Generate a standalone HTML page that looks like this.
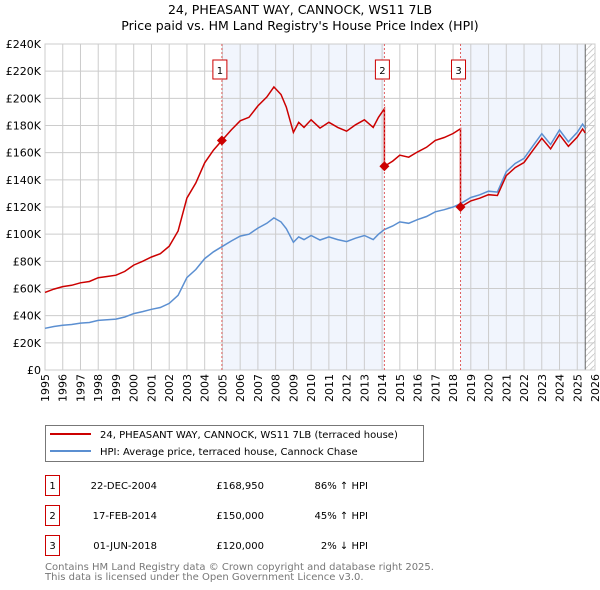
<!DOCTYPE html>
<html><head><meta charset="utf-8"><style>
body{margin:0;width:600px;height:590px;background:#fff;font-family:"DejaVu Sans","Liberation Sans",sans-serif;overflow:hidden}
svg{position:absolute;left:0;top:0}
</style></head><body>
<svg id="chart" width="600" height="590" font-family="DejaVu Sans, Liberation Sans, sans-serif">
<text x="300" y="14" text-anchor="middle" font-size="12.5">24, PHEASANT WAY, CANNOCK, WS11 7LB</text>
<text x="300" y="30" text-anchor="middle" font-size="12.5">Price paid vs. HM Land Registry's House Price Index (HPI)</text>
<g id="bg"></g><g id="grid"></g><g id="axes"></g><g id="lines"></g><g id="marks"></g>
<rect x="45.5" y="425.5" width="378" height="36" fill="#fff" stroke="#777"/>
<line x1="50" y1="434" x2="91" y2="434" stroke="#cc0000" stroke-width="2"/>
<text x="100" y="438" font-size="10">24, PHEASANT WAY, CANNOCK, WS11 7LB (terraced house)</text>
<line x1="50" y1="451" x2="91" y2="451" stroke="#5b8fd1" stroke-width="2"/>
<text x="100" y="455" font-size="10">HPI: Average price, terraced house, Cannock Chase</text>
<g id="table" font-size="10"></g>
<text x="45" y="570" font-size="10" fill="#777">Contains HM Land Registry data © Crown copyright and database right 2025.</text>
<text x="45" y="580" font-size="10" fill="#777">This data is licensed under the Open Government Licence v3.0.</text>
</svg>
<script>
const hpiYears=[1995,1995.5,1996,1996.5,1997,1997.5,1998,1998.5,1999,1999.5,2000,2000.5,2001,2001.5,2002,2002.5,2003,2003.5,2004,2004.5,2004.97,2005.5,2006,2006.5,2007,2007.5,2007.9,2008.3,2008.6,2009,2009.3,2009.6,2010,2010.5,2011,2011.5,2012,2012.5,2013,2013.5,2013.8,2014.13,2014.6,2015,2015.5,2016,2016.5,2017,2017.5,2018,2018.42,2019,2019.5,2020,2020.5,2021,2021.5,2022,2022.5,2023,2023.5,2024,2024.5,2025,2025.3,2025.45];
const hpiValues=[30.7,32,33,33.5,34.5,35,36.5,37,37.5,39,41.5,43,44.7,46,49,55,68,74,82,87,90.8,95,98.6,100,104.5,108,112,109,104,94,98,96,99,95.7,98,96,94.5,97,99,96,100,103.4,106,109,108,110.7,113,116.5,118,120,122.4,127,129,131.6,131,146,152,155.8,165,174,166,176.7,168,175,181,178];
const saleYears=[2004.97,2014.13,2018.42];
const salePrices=[168.95,150,120];
const saleLabels=["1","2","3"];
const saleDates=["22-DEC-2004","17-FEB-2014","01-JUN-2018"];
const salePriceText=["£168,950","£150,000","£120,000"];
const salePctText=["86% ↑ HPI","45% ↑ HPI","2% ↓ HPI"];
const yTicks=[0,20,40,60,80,100,120,140,160,180,200,220,240];
const xTicks=[1995,1996,1997,1998,1999,2000,2001,2002,2003,2004,2005,2006,2007,2008,2009,2010,2011,2012,2013,2014,2015,2016,2017,2018,2019,2020,2021,2022,2023,2024,2025,2026];
const NS="http://www.w3.org/2000/svg";
const X0=45,X1=595,Y0=370,Y1=44;
const xs=t=>X0+(t-1995)/(2026-1995)*(X1-X0);
const ys=v=>Y0-v/240*(Y0-Y1);
function mk(tag,parent,attrs){const e=document.createElementNS(NS,tag);for(const k in attrs)e.setAttribute(k,attrs[k]);(typeof parent==='string'?document.getElementById(parent):parent).appendChild(e);return e;}
function hpiAt(t){for(let i=0;i<hpiYears.length-1;i++){if(t<=hpiYears[i+1]){const f=(t-hpiYears[i])/(hpiYears[i+1]-hpiYears[i]);return hpiValues[i]+f*(hpiValues[i+1]-hpiValues[i]);}}return hpiValues[hpiValues.length-1];}
let r=mk('rect','bg',{x:X0,y:Y1,width:X1-X0,height:Y0-Y1,fill:'#fff'});


[[saleYears[0],saleYears[1]],[saleYears[2],2025.45]].forEach(p=>{let s=mk('rect','bg',{x:xs(p[0]),y:Y1,width:xs(p[1])-xs(p[0]),height:Y0-Y1,fill:'#eef3fc',opacity:0.8});

});
const pat=mk('pattern','bg',{id:'hatch',width:6,height:6,patternUnits:'userSpaceOnUse'});
const pl=document.createElementNS(NS,'path');pl.setAttribute('d','M0,6 L6,0');pl.setAttribute('stroke','#ccc');pat.appendChild(pl);
let h=mk('rect','bg',{x:xs(2025.45),y:Y1,width:X1-xs(2025.45),height:Y0-Y1,fill:'url(#hatch)'});


yTicks.forEach(v=>{mk('line','grid',{x1:X0,x2:X1,y1:ys(v),y2:ys(v),stroke:'#ccc'});
let t=mk('text','axes',{x:X0-4,y:ys(v)+4,'text-anchor':'end','font-size':11});t.textContent='£'+(v?v+'K':'0');

});
xTicks.forEach(y=>{mk('line','grid',{x1:xs(y),x2:xs(y),y1:Y1,y2:Y0,stroke:'#ccc'});
const tx=xs(y)+4,ty=Y0+4;
const g=mk('g','axes',{transform:'translate('+tx.toFixed(1)+','+ty+') rotate(-90)'});
let t=mk('text',g,{x:0,y:0,'text-anchor':'end','font-size':11});t.textContent=y;

});
mk('line','grid',{x1:xs(2025.45),x2:xs(2025.45),y1:Y1,y2:Y0,stroke:'#666'});
mk('rect','grid',{x:X0,y:Y1,width:X1-X0,height:Y0-Y1,fill:'none',stroke:'#ccc'});
let hp='';hpiYears.forEach((t,i)=>{hp+=(i?'L':'M')+xs(t).toFixed(1)+','+ys(hpiValues[i]).toFixed(1);});
let hl=mk('path','lines',{d:hp,fill:'none',stroke:'#5b8fd1','stroke-width':1.5});


function ratioAt(t){let k=0;for(let i=0;i<saleYears.length;i++)if(t>=saleYears[i])k=i;return salePrices[k]/hpiAt(saleYears[k]);}
let pts=[];hpiYears.forEach((t,i)=>{pts.push([t,hpiValues[i]*ratioAt(t)]);});
saleYears.forEach((s,k)=>{if(k>0){pts.push([s-0.001,hpiAt(s)*salePrices[k-1]/hpiAt(saleYears[k-1])]);}});
pts.sort((a,b)=>a[0]-b[0]);
let rp='';pts.forEach((p,i)=>{rp+=(i?'L':'M')+xs(p[0]).toFixed(1)+','+ys(p[1]).toFixed(1);});
let rl=mk('path','lines',{d:rp,fill:'none',stroke:'#cc0000','stroke-width':1.5});


saleYears.forEach((s,k)=>{const x=xs(s),y=ys(salePrices[k]);
mk('line','marks',{x1:x,x2:x,y1:Y1,y2:Y0,stroke:'#e06060','stroke-dasharray':'2,2'});
let d=mk('path','marks',{d:`M${x},${y-5}L${x+5},${y}L${x},${y+5}L${x-5},${y}Z`,fill:'#cc0000'});


let b=mk('rect','marks',{x:x-9,y:60,width:14,height:19,fill:'#fff',stroke:'#cc0000'});


let t=mk('text','marks',{x:x-2,y:74,'text-anchor':'middle','font-size':10});t.textContent=saleLabels[k];
const ry=475+k*30;
let tb=mk('rect','table',{x:45.5,y:ry+0.5,width:14,height:20,fill:'none',stroke:'#cc0000'});


let n=mk('text','table',{x:52.5,y:ry+14,'text-anchor':'middle'});n.textContent=saleLabels[k];
let dt=mk('text','table',{x:157,y:ry+14,'text-anchor':'end'});dt.textContent=saleDates[k];


let pr=mk('text','table',{x:264,y:ry+14,'text-anchor':'end'});pr.textContent=salePriceText[k];


let pc=mk('text','table',{x:368,y:ry+14,'text-anchor':'end'});pc.textContent=salePctText[k];


});
</script>
</body></html>
